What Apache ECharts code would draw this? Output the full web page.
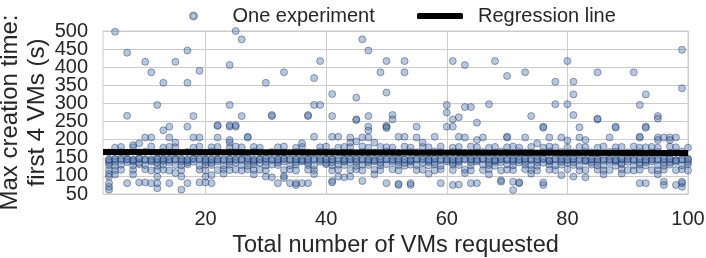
<!DOCTYPE html>
<html>
<head>
<meta charset="utf-8">
<script src="https://cdn.jsdelivr.net/npm/echarts@6/dist/echarts.min.js"></script>
<style>html,body{margin:0;padding:0;background:#fff}#c{width:706px;height:258px}</style>
</head>
<body>
<div id="c"></div>
<script>
// x values: total number of VMs requested
const vmCounts = [4,5,6,7,8,9,10,11,12,13,14,15,16,17,18,19,20,21,22,23,24,25,26,27,28,29,30,31,32,33,34,35,36,37,38,39,40,41,42,43,44,45,46,47,48,49,50,51,52,53,54,55,56,57,58,59,60,61,62,63,64,65,66,67,68,69,70,71,72,73,74,75,76,77,78,79,80,81,82,83,84,85,86,87,88,89,90,91,92,93,94,95,96,97,98,99,100];
const xTicks = [20,40,60,80,100];
const yTicksInner = [100,150,200,250,300,350,400,450];
const yTicksEnds = [50,500];

// experiment values (s), one entry per vmCounts value; null = no experiment at that level
const bandA = [145,147,144,146,145,148,144,146,147,145, 146,144,147,145,146,148,145,144,146,147, 145,146,144,147,145,146,148,145,144,146, 147,145,146,144,145,147,146,145,148,144, 146,145,147,144,146,145,147,146,144,145, 146,148,145,144,146,147,145,146,144,147, 145,146,148,144,145,147,146,145,144,146, 147,145,146,144,148,145,146,147,144,145, 146,145,147,144,146,148,145,146,147,144, 145,146,147,145,144,146,145];
const bandB = [143,146,148,145,144,147,146,143,145,148, 144,147,145,143,148,146,144,147,145,143, 147,144,146,148,143,145,147,144,146,148, 144,146,143,147,148,144,145,146,143,147, 145,148,144,146,143,147,145,144,148,146, 143,145,147,146,148,144,146,143,147,145, 147,144,146,148,143,145,144,147,146,148, 144,146,148,143,145,147,144,146,148,143, 145,147,143,146,144,145,148,143,146,145, 147,144,146,148,143,145,147];
const bandC = [137,139,null,138,140,136,null,139,137,141, 138,null,140,137,139,null,138,136,140,null, 139,137,null,140,138,136,139,null,137,140, null,138,140,137,null,139,136,138,null,140, 137,139,null,138,140,137,null,139,138,136, 140,null,137,139,138,null,140,136,139,null, 138,140,null,137,139,138,null,140,137,139, null,138,136,140,null,139,137,138,null,140, 137,139,null,138,140,136,139,null,137,138, 140,null,138,137,139,null,138];
const bandD = [130,128,131,null,129,132,130,null,128,131, null,130,129,132,null,128,131,130,null,129, 131,null,130,128,132,null,129,131,130,null, 129,131,null,130,128,null,132,129,131,130, null,128,131,130,null,129,132,null,130,128, 131,130,null,129,132,128,null,131,130,null, 129,null,131,130,128,null,132,129,null,131, 130,128,null,132,129,131,null,130,128,null, 131,129,130,null,128,132,null,130,131,129, null,130,128,131,null,129,132];
const bandE = [116,115,117,null,116,null,118,115,116,117, 115,null,116,null,null,117,115,null,116,118, 116,117,115,118,116,117,115,null,null,116, 118,115,null,117,116,null,null,115,117,null, 116,118,115,null,117,116,null,118,115,null, null,116,117,null,115,118,null,116,null,117, 115,null,116,118,null,115,117,116,null,118, 116,115,null,117,116,null,118,null,115,116, null,117,115,116,null,118,116,115,117,null, 116,115,117,null,116,118,115];
const bandG = [165,null,166,164,null,165,167,null,164,166, 165,164,null,166,165,null,164,167,165,null, 166,165,164,null,167,165,null,166,164,165, null,166,165,164,null,167,165,166,null,164, 165,null,166,164,165,null,167,165,164,null, 166,165,null,164,167,165,null,166,165,164, null,165,166,null,164,167,165,null,166,165, 164,null,165,167,null,166,164,165,null,166, 165,164,null,166,167,null,165,164,166,null, 165,166,null,164,165,167,null];
const bandH = [null,178,180,null,179,null,null,181,null,178, 180,179,null,null,178,181,null,179,180,null, 178,181,179,null,180,178,null,null,179,181, null,178,180,null,null,179,181,null,178,180, 179,null,181,178,null,180,179,178,null,181, 178,null,180,179,null,181,null,178,180,null, 181,179,null,178,180,null,179,181,178,null, 180,null,178,181,179,null,178,null,180,179, null,178,181,null,179,180,null,181,178,179, 180,178,null,181,179,null,178];

// sparse experiments [vmCount, seconds]
const lowPts = [[4,62],[4,70],[4,80],[4,98],[4,105],[5,104],[7,80],[9,82],[10,82],[11,80],[12,98],[12,66],[12,80],[14,80],[16,62],[16,98],[17,80],[19,82],[20,82],[20,98],[21,80],[21,102],[30,98],[31,96],[32,80],[33,94],[33,100],[34,80],[35,75],[35,80],[36,80],[37,80],[41,86],[41,82],[42,98],[43,96],[44,98],[46,86],[50,80],[52,75],[52,78],[54,75],[54,80],[59,80],[61,75],[62,76],[64,80],[65,80],[69,88],[69,84],[71,61],[71,84],[72,80],[72,82],[76,75],[76,82],[81,98],[83,96],[92,80],[93,80],[96,84],[96,75],[98,75],[99,70],[99,80],[99,84],
  [8,104],[15,108],[23,106],[28,104],[38,105],[48,104],[57,106],[63,108],[67,104],[74,106],[79,102],[86,104],[89,106],[95,104]];
const highPts = [[5,498],[7,440],[10,415],[11,386],[13,357],[15,415],[17,446],[17,357],[19,390],[12,296],[7,266],[18,265],[24,406],[24,296],[26,477],[25,500],[13,226],[14,236],[17,236],[22,238],[24,236],[10,206],[11,206],[14,206],[18,206],[19,206],[22,206],[15,192],[8,185],[24,192],
  [39,417],[33,386],[30,357],[38,370],[46,477],[47,446],[50,417],[53,417],[49,386],[53,386],[61,417],[63,406],[41,326],[45,316],[50,330],[38,296],[39,296],[60,296],[26,265],[31,265],[37,265],[41,265],[45,256],[47,265],[51,268],[51,256],[60,275],[61,256],[62,262],[63,290],[25,236],[47,236],[50,236],[55,236],[60,236],[61,236],
  [68,417],[70,376],[73,386],[78,360],[81,360],[80,417],[85,386],[91,386],[99,448],[99,342],[93,325],[81,325],[64,290],[67,298],[78,298],[80,298],[92,296],[65,247],[74,265],[81,268],[85,256],[95,265],[88,236],[93,236],[76,236],[82,234],
  [27,208],[38,208],[41,208],[42,208],[47,225],[52,208],[53,208],[58,208],[62,208],[44,192],[48,192],[50,238],[50,232],
  [45,254],[37,268],[46,206],[47,206],[44,206],[45,195],[55,206],[63,206],[66,206],[65,199],[70,206],[73,206],[77,206],[79,206],[82,206],[80,198],[83,199],[76,233],[70,208],
  [87,206],[92,206],[92,208],[95,206],[96,206],[97,206],[98,206],[95,199],[97,199],[88,233],[93,233],[85,258],[95,258],
  [22,240],[24,240],[25,240],[27,206],[24,199],[9,190],[36,190],[56,192],[75,190],[31,268]];

// regression line end points
const regX = [3,100];
const regY = [166,163];

function rowPoints(values){
  const out = [];
  values.forEach((v,i)=>{ if(v!==null) out.push([vmCounts[i], v]); });
  return out;
}
const scatterData = [].concat(rowPoints(bandE), rowPoints(bandD), rowPoints(bandC), rowPoints(bandB), rowPoints(bandA), rowPoints(bandG), rowPoints(bandH), lowPts, highPts);
const regData = regX.map((x,i)=>[x, regY[i]]);

const FONT = '"Liberation Sans", Arial, Helvetica, sans-serif';
const TXT = '#262626';
const chart = echarts.init(document.getElementById('c'), null, {renderer:'canvas'});
chart.setOption({
  animation:false,
  backgroundColor:'#ffffff',
  textStyle:{fontFamily:FONT, color:TXT},
  grid:{left:103, right:18, top:31, bottom:64, show:true, borderColor:'#cccccc', borderWidth:1, containLabel:false, outerBoundsMode:'none'},
  legend:[
    {data:['One experiment'], left:189, top:6, padding:0, icon:'circle', itemWidth:68, itemHeight:7, selectedMode:false,
     textStyle:{fontSize:20, color:TXT, fontFamily:FONT}},
    {data:['Regression line'], left:417, top:6, padding:0, icon:'roundRect', itemWidth:46, itemHeight:6, selectedMode:false,
     textStyle:{fontSize:20, color:TXT, fontFamily:FONT, padding:[0,0,0,10]}}
  ],
  xAxis:{type:'value', min:3, max:100,
    name:'Total number of VMs requested', nameLocation:'middle', nameGap:40, nameMoveOverlap:false,
    nameTextStyle:{fontSize:23.5, color:TXT, fontFamily:FONT},
    axisLine:{show:false}, axisTick:{show:false, customValues:xTicks},
    axisLabel:{customValues:xTicks, fontSize:20, color:TXT, margin:15, fontFamily:FONT},
    splitLine:{show:true, lineStyle:{color:'#cccccc', width:1}}
  },
  yAxis:[
    {type:'value', min:50, max:500, interval:50, position:'left',
     name:'Max creation time:\nfirst 4 VMs (s)', nameLocation:'middle', nameRotate:90, nameGap:52, nameMoveOverlap:false,
     nameTextStyle:{fontSize:24, color:TXT, fontFamily:FONT, lineHeight:27},
     axisLine:{show:false}, axisTick:{show:false},
     axisLabel:{fontSize:20, color:TXT, margin:15, fontFamily:FONT,
       formatter:(v)=> yTicksInner.includes(v)? String(v) : ''},
     splitLine:{show:true, lineStyle:{color:'#cccccc', width:1}}
    },
    {type:'value', min:50, max:500, interval:50, position:'left', offset:0,
     axisLine:{show:false}, axisTick:{show:false}, splitLine:{show:false},
     axisLabel:{fontSize:20, color:TXT, margin:15, fontFamily:FONT, showMinLabel:true, showMaxLabel:true,
       formatter:(v)=> yTicksEnds.includes(v)? String(v) : ''}
    }
  ],
  series:[
    {name:'One experiment', type:'scatter', data:scatterData, symbol:'circle', symbolSize:7, clip:true, yAxisIndex:0,
     itemStyle:{color:'#4C72B0', borderColor:'#15254a', borderWidth:1, opacity:0.4}, z:2},
    {name:'Regression line', type:'line', data:regData, symbol:'none', showSymbol:false, z:5, yAxisIndex:0,
     lineStyle:{color:'#000000', width:6}, itemStyle:{color:'#000000'}}
  ]
});
</script>
</body>
</html>
